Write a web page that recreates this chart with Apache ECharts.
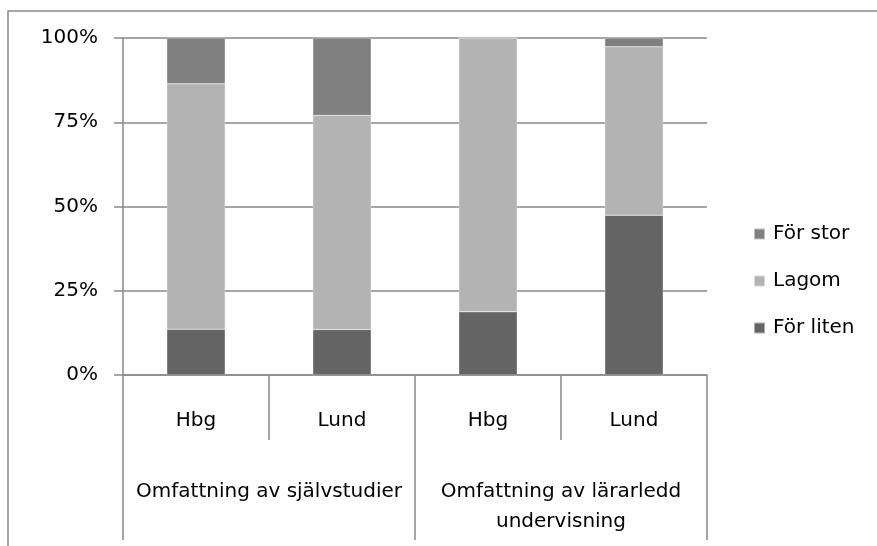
<!DOCTYPE html>
<html>
<head>
<meta charset="utf-8">
<script src="https://cdn.jsdelivr.net/npm/echarts@6/dist/echarts.min.js"></script>
<style>
  html, body { margin: 0; padding: 0; background: #fff; }
  #chart { width: 877px; height: 546px; }
</style>
</head>
<body>
<div id="chart"></div>
<script>
// Data (percent of answers)
var places = ['Hbg', 'Lund', 'Hbg', 'Lund'];
var groups = ['Omfattning av självstudier', 'Omfattning av lärarledd\nundervisning'];
var forLiten = [13.6, 13.5, 18.75, 47.4];
var lagom = [72.8, 63.5, 81.25, 50.0];
var forStor = [13.6, 23.0, 0, 2.6];
var yTicks = [0, 25, 50, 75, 100];

var font = 'DejaVu Sans';
var fs = 20;
var lineGray = '#898989';

var myChart = echarts.init(document.getElementById('chart'));

function bar(name, data, color) {
    return {
        name: name,
        type: 'bar',
        stack: 'total',
        data: data,
        barWidth: '40%',
        itemStyle: { color: color, borderColor: 'rgba(255,255,255,0.5)', borderWidth: 0.5 },
        emphasis: { disabled: true }
    };
}

myChart.setOption({
    animation: false,
    textStyle: { fontFamily: font },
    grid: {
        left: 123,
        right: 170,
        top: 38,
        bottom: 171,
        containLabel: false,
        outerBoundsMode: 'none'
    },
    legend: {
        orient: 'vertical',
        left: 753,
        top: 224,
        padding: 0,
        itemWidth: 11,
        itemHeight: 11,
        itemGap: 27,
        icon: 'rect',
        data: ['För stor', 'Lagom', 'För liten'],
        textStyle: { fontSize: fs, color: '#000', fontFamily: font, padding: [0, 0, 0, 3] }
    },
    xAxis: [
        {
            type: 'category',
            data: places,
            position: 'bottom',
            axisLine: { lineStyle: { color: lineGray, width: 1.5 } },
            axisTick: { show: true, interval: 0, length: 65, lineStyle: { color: lineGray, width: 1.5 } },
            axisLabel: { interval: 0, margin: 36, fontSize: fs, color: '#000', fontFamily: font }
        },
        {
            type: 'category',
            data: groups,
            position: 'bottom',
            axisLine: { show: false },
            axisTick: { show: true, interval: 0, length: 165, lineStyle: { color: lineGray, width: 1.5 } },
            axisLabel: { interval: 0, margin: 102, fontSize: fs, lineHeight: 30, color: '#000', fontFamily: font, align: 'center' }
        }
    ],
    yAxis: {
        type: 'value',
        min: 0,
        max: 100,
        interval: 25,
        axisLine: { show: true, lineStyle: { color: lineGray, width: 1.5 } },
        axisTick: { show: true, length: 9, lineStyle: { color: lineGray, width: 1.5 } },
        splitLine: { show: true, lineStyle: { color: lineGray, width: 1.5 } },
        axisLabel: {
            margin: 25,
            fontSize: fs,
            color: '#000',
            fontFamily: font,
            formatter: function (v) { return yTicks.indexOf(v) >= 0 ? v + '%' : ''; }
        }
    },
    graphic: [
        {
            // chart frame, only its left and top edges fall inside the picture
            type: 'polyline',
            silent: true,
            shape: { points: [[8, 546], [8, 11], [877, 11]] },
            style: { fill: 'none', stroke: lineGray, lineWidth: 1.5 }
        }
    ],
    series: [
        bar('För liten', forLiten, '#646464'),
        bar('Lagom', lagom, '#b3b3b3'),
        bar('För stor', forStor, '#808080')
    ]
});
</script>
</body>
</html>
